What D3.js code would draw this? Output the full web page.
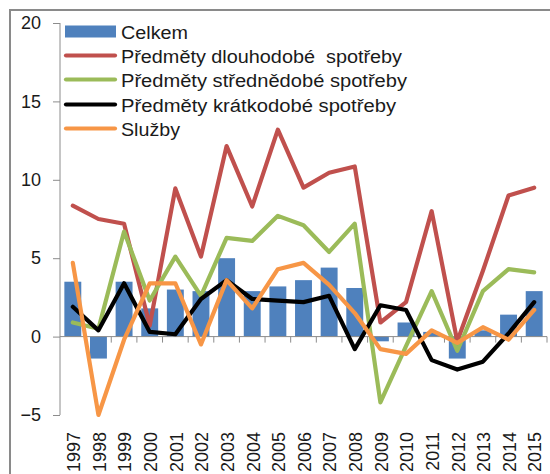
<!DOCTYPE html>
<html><head><meta charset="utf-8">
<script src="https://cdn.jsdelivr.net/npm/d3@7"></script>
<style>body{margin:0;background:#fff}svg{display:block}text{font-family:"Liberation Sans",Arial,sans-serif}</style>
</head><body><svg id="c" width="550" height="474"></svg>
<script>
const years = ["1997","1998","1999","2000","2001","2002","2003","2004","2005","2006","2007","2008","2009","2010","2011","2012","2013","2014","2015"];
const celkem = [3.5,-1.4,3.5,1.8,3.0,2.9,5.0,2.9,3.2,3.6,4.4,3.1,-0.3,0.9,0.3,-1.4,0.4,1.4,2.9];
const dlouhodobe = [8.35,7.5,7.2,0.7,9.45,5.1,12.15,8.3,13.2,9.5,10.45,10.85,0.9,2.2,8.0,-0.3,4.2,9.0,9.5];
const strednedobe = [0.9,0.5,6.7,2.3,5.1,2.6,6.3,6.1,7.7,7.1,5.4,7.2,-4.2,-0.6,2.9,-0.9,2.9,4.3,4.1];
const kratkodobe = [1.9,0.4,3.4,0.3,0.15,2.4,3.6,2.4,2.3,2.2,2.6,-0.8,2.0,1.7,-1.5,-2.1,-1.6,0.2,2.2];
const sluzby = [4.7,-5.0,-0.2,3.4,3.4,-0.5,3.6,1.8,4.3,4.7,3.3,1.5,-0.8,-1.1,0.4,-0.4,0.6,-0.2,1.7];
const yTicks = [-5,0,5,10,15,20];
const seriesNames = ["Celkem","Předměty dlouhodobé  spotřeby","Předměty střednědobé spotřeby","Předměty krátkodobé spotřeby","Služby"];
const colors = ["#4F81BD","#C0504D","#9BBB59","#000000","#F79646"];

const svg = d3.select("#c");
svg.append("rect").attr("x",10).attr("y",10).attr("width",560).attr("height",480)
  .attr("fill","none").attr("stroke","#8a8a8a").attr("stroke-width",2);

const x = d3.scaleBand().domain(years).range([60,547]).paddingInner(0.34).paddingOuter(0.17);
const xb = d3.scaleBand().domain(years).range([60,547]);
const y = d3.scaleLinear().domain([-5,20]).range([415,23]);

// y axis
const ya = svg.append("g").attr("transform","translate(60,0)")
  .call(d3.axisLeft(y).tickValues(yTicks).tickSize(7).tickPadding(12));
ya.select(".domain").attr("stroke","#8c8c8c").attr("d","M0,23V415");
ya.selectAll(".tick line").attr("stroke","#8c8c8c");
ya.selectAll(".tick text").attr("font-size",18).attr("fill","#1a1a1a").attr("font-family","Liberation Sans, Arial, sans-serif");

// bars
svg.append("g").selectAll("rect").data(celkem).join("rect")
  .attr("x",(d,i)=>x(years[i])).attr("width",x.bandwidth())
  .attr("y",d=>y(Math.max(0,d))).attr("height",d=>Math.abs(y(d)-y(0)))
  .attr("fill",colors[0]);

// x axis line at zero
const xa = svg.append("g").attr("transform",`translate(0,${y(0)})`);
xa.append("line").attr("x1",60).attr("x2",547).attr("stroke","#8c8c8c");
xa.selectAll("line.t").data(years).join("line").attr("class","t")
  .attr("x1",d=>xb(d)+xb.bandwidth()).attr("x2",d=>xb(d)+xb.bandwidth())
  .attr("y1",0).attr("y2",6).attr("stroke","#8c8c8c");

// x labels rotated
svg.append("g").selectAll("text").data(years).join("text")
  .attr("transform",d=>`translate(${xb(d)+xb.bandwidth()/2+1},432) rotate(-90)`)
  .attr("text-anchor","end").attr("dy","0.35em").attr("font-size",18).attr("fill","#1a1a1a")
  .text(d=>d);

// lines
const line = d3.line().x((d,i)=>xb(years[i])+xb.bandwidth()/2).y(d=>y(d));
[dlouhodobe,strednedobe,kratkodobe,sluzby].forEach((s,k)=>{
  svg.append("path").datum(s).attr("d",line).attr("fill","none")
    .attr("stroke",colors[k+1]).attr("stroke-width",4.2)
    .attr("stroke-linejoin","round").attr("stroke-linecap","round");
});

// legend
const lg = svg.append("g");
const rowY = [31.5,55.5,79.5,104.5,128.5];
const legendWidths = [67,281,286,275,59];
seriesNames.forEach((n,i)=>{
  if(i===0){
    lg.append("rect").attr("x",65).attr("y",rowY[i]-6).attr("width",51).attr("height",12).attr("fill",colors[0]);
  } else {
    lg.append("line").attr("x1",66).attr("x2",115).attr("y1",rowY[i]).attr("y2",rowY[i])
      .attr("stroke",colors[i]).attr("stroke-width",4.2).attr("stroke-linecap","round");
  }
  lg.append("text").attr("x",121).attr("y",rowY[i]+7).attr("font-size",18).attr("fill","#1a1a1a")
    .attr("textLength",legendWidths[i]).attr("lengthAdjust","spacingAndGlyphs")
    .style("white-space","pre").text(n);
});
</script></body></html>
